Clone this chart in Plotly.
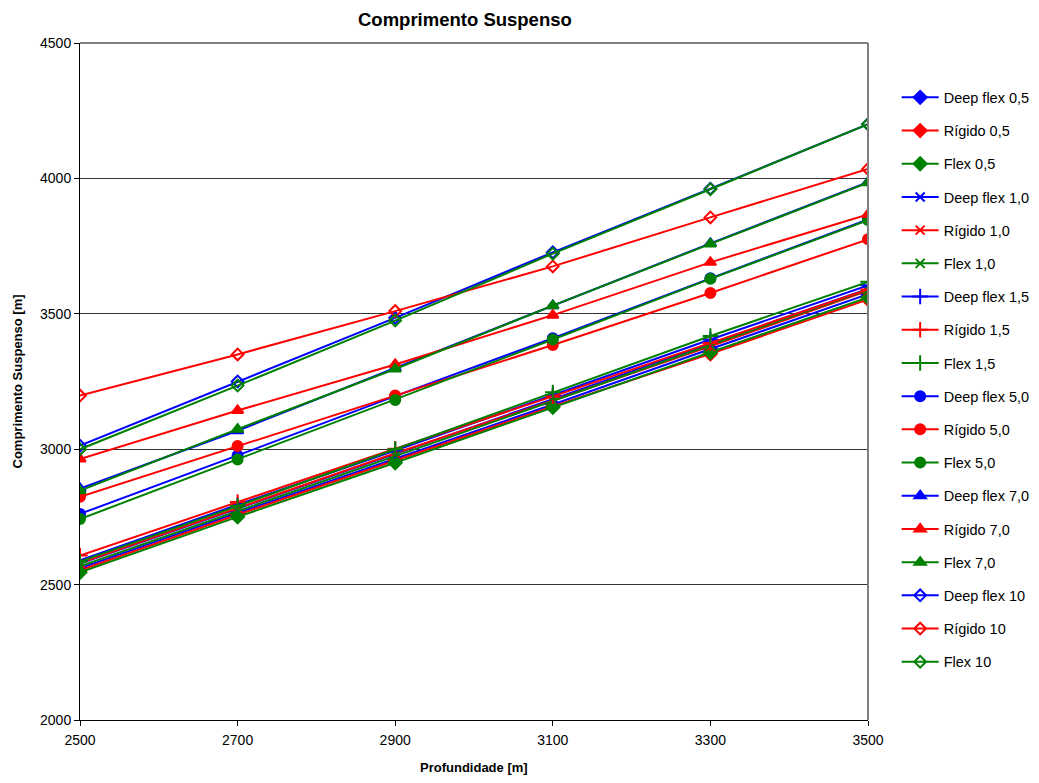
import plotly.graph_objects as go

# Profundidade [m]
depths = [2500, 2700, 2900, 3100, 3300, 3500]

# Comprimento suspenso [m] por caso
deep_flex_05 = [2560, 2765, 2965, 3165, 3370, 3572]
rigido_05 = [2553, 2758, 2958, 3158, 3352, 3553]
flex_05 = [2545, 2750, 2950, 3155, 3358, 3560]

deep_flex_10 = [2578, 2780, 2982, 3185, 3390, 3592]
rigido_10 = [2580, 2782, 2985, 3180, 3380, 3585]
flex_10 = [2568, 2772, 2975, 3178, 3385, 3588]

deep_flex_15 = [2590, 2795, 2995, 3200, 3405, 3605]
rigido_15 = [2607, 2805, 3002, 3195, 3392, 3590]
flex_15 = [2585, 2790, 3000, 3210, 3418, 3618]

deep_flex_50 = [2761, 2977, 3196, 3410, 3631, 3848]
rigido_50 = [2824, 3012, 3198, 3385, 3577, 3775]
flex_50 = [2742, 2962, 3182, 3405, 3629, 3846]

deep_flex_70 = [2855, 3068, 3300, 3530, 3760, 3986]
rigido_70 = [2964, 3143, 3313, 3495, 3690, 3867]
flex_70 = [2847, 3074, 3296, 3530, 3758, 3984]

deep_flex_100 = [3013, 3250, 3485, 3727, 3962, 4200]
rigido_100 = [3198, 3350, 3510, 3675, 3856, 4035]
flex_100 = [3000, 3235, 3475, 3722, 3960, 4200]

series_names = [
    "Deep flex 0,5", "Rígido 0,5", "Flex 0,5",
    "Deep flex 1,0", "Rígido 1,0", "Flex 1,0",
    "Deep flex 1,5", "Rígido 1,5", "Flex 1,5",
    "Deep flex 5,0", "Rígido 5,0", "Flex 5,0",
    "Deep flex 7,0", "Rígido 7,0", "Flex 7,0",
    "Deep flex 10", "Rígido 10", "Flex 10",
]
series_values = [
    deep_flex_05, rigido_05, flex_05,
    deep_flex_10, rigido_10, flex_10,
    deep_flex_15, rigido_15, flex_15,
    deep_flex_50, rigido_50, flex_50,
    deep_flex_70, rigido_70, flex_70,
    deep_flex_100, rigido_100, flex_100,
]

colors = ["#0000FF", "#FF0000", "#008000"]
symbols = ["diamond", "x-thin", "cross-thin", "circle", "triangle-up", "diamond-open"]
sizes = [10, 9, 11, 10, 10, 9]

FONT = "Liberation Sans, Arial, sans-serif"

fig = go.Figure()
for i, (name, vals) in enumerate(zip(series_names, series_values)):
    grp, c = divmod(i, 3)
    color = colors[c]
    fig.add_trace(go.Scatter(
        x=depths, y=vals, name=name, mode="lines+markers",
        legendgroup=name,
        line=dict(color=color, width=2),
        marker=dict(symbol=symbols[grp], size=sizes[grp], color=color,
                    line=dict(color=color, width=2)),
    ))

fig.update_layout(
    width=1039, height=783,
    margin=dict(l=80, r=171, t=43, b=63, autoexpand=False),
    paper_bgcolor="white", plot_bgcolor="white",
    font=dict(family=FONT, color="black", size=12),
    showlegend=True,
    legend=dict(
        xref="container", yref="container",
        x=0.863, xanchor="left", y=0.896, yanchor="top",
        font=dict(family=FONT, size=14.5, color="black"),
        tracegroupgap=11.35, traceorder="grouped",
        itemwidth=37, bgcolor="rgba(0,0,0,0)",
        maxheight=740,
    ),
    xaxis=dict(
        range=[2500, 3500], tickmode="array",
        tickvals=[2500, 2700, 2900, 3100, 3300, 3500],
        showgrid=False, zeroline=False,
        showline=True, linecolor="black", linewidth=1,
        ticks="outside", ticklen=5, tickcolor="black",
        tickfont=dict(size=14), ticklabelstandoff=2,
    ),
    yaxis=dict(
        range=[2000, 4500], tickmode="array",
        tickvals=[2000, 2500, 3000, 3500, 4000, 4500],
        showgrid=True, gridcolor="#333333", gridwidth=1, zeroline=False,
        showline=True, linecolor="black", linewidth=1,
        ticks="outside", ticklen=5, tickcolor="black",
        tickfont=dict(size=14),
    ),
    shapes=[
        dict(type="line", xref="paper", yref="paper", x0=0, x1=1, y0=1, y1=1,
             line=dict(color="#808080", width=2)),
        dict(type="line", xref="paper", yref="paper", x0=1, x1=1, y0=0, y1=1,
             line=dict(color="#808080", width=2)),
    ],
    annotations=[
        dict(text="<b>Comprimento Suspenso</b>", xref="paper", yref="paper",
             x=0.488, y=1.0, yshift=24, xanchor="center", yanchor="middle",
             showarrow=False, font=dict(size=18.5)),
        dict(text="<b>Profundidade [m]</b>", xref="paper", yref="paper",
             x=0.5, y=0, yshift=-47, xanchor="center", yanchor="middle",
             showarrow=False, font=dict(size=13)),
        dict(text="<b>Comprimento Suspenso [m]</b>", xref="paper", yref="paper",
             x=0, xshift=-63, y=0.5, xanchor="center", yanchor="middle",
             textangle=-90, showarrow=False, font=dict(size=13)),
    ],
)

fig.write_html("out.html")
